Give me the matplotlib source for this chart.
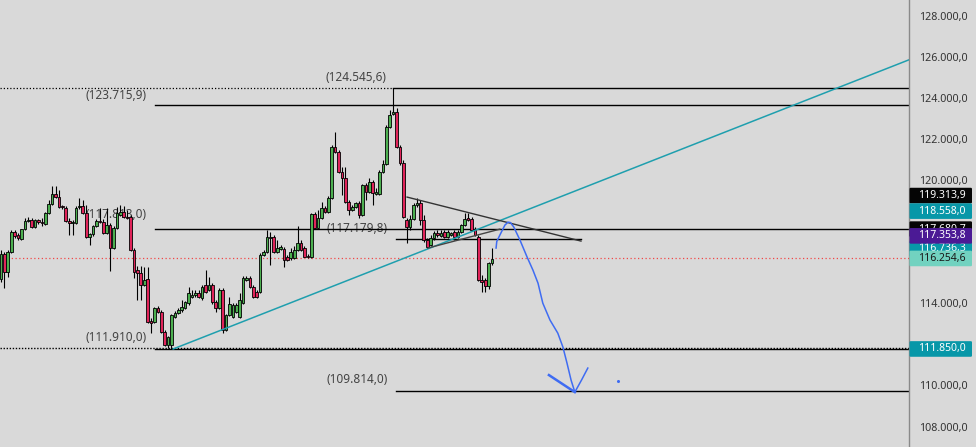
import matplotlib
matplotlib.use('Agg')
import matplotlib.pyplot as plt
from matplotlib.patches import FancyBboxPatch
import numpy as np

plt.rcParams['font.family'] = ['Noto Sans', 'DejaVu Sans']

# candle data, in thousands
opens = [115.25, 116.47, 115.59, 116.56, 117.54, 117.39, 117.19, 117.68, 118.07, 118.12,
         117.78, 118.12, 118.02, 117.93, 118.46, 118.90, 119.39, 119.24, 118.81, 118.71,
         118.07, 117.98, 117.98, 118.76, 118.81, 118.46, 117.29, 117.44, 117.83, 118.07,
         118.02, 117.49, 117.88, 116.76, 117.73, 118.37, 118.51, 118.27, 118.27, 116.66,
         115.69, 115.54, 114.96, 115.25, 113.20, 113.15, 113.84, 113.64, 112.67, 112.03,
         112.03, 113.40, 113.59, 113.74, 113.84, 114.08, 114.37, 114.47, 114.57, 114.33,
         114.96, 114.72, 114.96, 114.13, 113.84, 114.72, 112.77, 113.50, 113.40, 113.64,
         113.40, 114.08, 115.20, 115.30, 114.86, 114.62, 114.62, 116.42, 116.56, 117.24,
         117.29, 116.56, 116.71, 116.71, 116.32, 116.27, 116.27, 116.66, 117.00, 116.76,
         116.37, 116.32, 118.41, 117.73, 118.22, 118.71, 118.51, 119.19, 121.67, 121.43,
         120.46, 120.16, 119.00, 118.61, 118.76, 118.95, 118.37, 119.82, 119.48, 119.97,
         119.39, 119.39, 120.46, 120.85, 122.65, 123.28, 123.38, 121.67, 120.89, 118.12,
         117.78, 118.17, 118.85, 118.95, 118.12, 117.15, 116.90, 117.24, 117.49, 117.34,
         117.54, 117.29, 117.39, 117.54, 117.29, 117.54, 117.88, 118.22, 118.17, 117.63,
         117.29, 115.20, 115.20, 114.91, 116.03]
highs = [116.66, 116.56, 116.66, 117.63, 117.63, 117.49, 117.68, 118.22, 118.27, 118.22,
         118.17, 118.17, 118.22, 118.51, 119.10, 119.77, 119.77, 119.58, 118.85, 118.81,
         118.22, 118.12, 118.81, 119.19, 119.10, 118.85, 117.49, 117.88, 118.17, 118.71,
         118.17, 118.71, 117.98, 117.83, 118.76, 118.85, 118.81, 118.61, 118.37, 116.76,
         115.88, 115.88, 115.84, 115.84, 113.35, 113.89, 113.94, 113.74, 112.77, 112.47,
         113.55, 113.69, 113.84, 114.23, 114.18, 114.86, 114.72, 114.72, 114.72, 114.96,
         115.69, 115.35, 115.05, 114.23, 114.81, 114.81, 113.55, 114.37, 114.08, 114.08,
         114.57, 115.40, 115.40, 115.40, 114.96, 114.72, 116.51, 116.66, 117.63, 117.54,
         117.39, 117.15, 116.90, 116.81, 116.42, 116.76, 116.85, 117.83, 117.15, 116.85,
         116.47, 118.46, 118.51, 118.61, 119.00, 118.81, 119.29, 121.77, 122.40, 121.53,
         120.70, 120.70, 119.10, 118.85, 119.00, 119.05, 119.87, 119.92, 120.16, 120.07,
         119.68, 120.55, 121.04, 122.75, 123.47, 124.55, 123.57, 121.77, 121.04, 118.22,
         118.37, 118.95, 119.19, 119.10, 118.37, 117.24, 117.39, 117.58, 117.63, 117.63,
         117.63, 117.63, 117.54, 117.63, 117.63, 117.93, 118.46, 118.46, 118.27, 117.78,
         117.39, 115.44, 115.30, 116.08, 116.76]
lows = [115.10, 114.81, 115.35, 116.51, 117.24, 117.15, 117.15, 117.63, 118.02, 117.73,
        117.73, 117.93, 117.83, 117.88, 118.41, 118.85, 119.19, 118.71, 118.66, 118.02,
        117.39, 117.39, 117.93, 118.66, 118.41, 117.24, 116.90, 117.34, 117.78, 117.98,
        117.44, 117.44, 115.64, 116.71, 117.68, 118.32, 118.22, 118.17, 116.61, 115.30,
        114.23, 114.23, 114.91, 113.11, 112.62, 113.11, 113.59, 112.62, 111.98, 111.88,
        111.85, 113.35, 113.55, 113.64, 113.79, 113.98, 114.33, 114.37, 114.33, 114.23,
        114.57, 114.67, 114.03, 113.64, 113.79, 112.62, 112.72, 113.45, 113.35, 113.59,
        113.35, 114.03, 115.15, 114.81, 114.33, 114.33, 114.57, 116.37, 116.51, 115.93,
        116.51, 116.51, 116.66, 115.84, 116.13, 116.18, 116.22, 116.61, 116.61, 116.32,
        116.27, 116.27, 117.68, 117.68, 118.17, 118.46, 118.46, 119.14, 121.38, 120.41,
        119.34, 118.95, 118.37, 118.56, 118.71, 118.22, 118.32, 119.10, 119.44, 118.85,
        119.34, 119.34, 120.41, 120.80, 122.60, 123.23, 121.62, 120.80, 118.22, 117.00,
        117.63, 118.12, 118.76, 117.88, 117.05, 116.76, 116.85, 117.15, 117.29, 117.29,
        117.24, 117.24, 117.34, 117.15, 117.24, 117.49, 117.83, 118.07, 117.58, 117.34,
        115.15, 114.62, 114.62, 114.76, 115.93]
closes = [116.47, 115.59, 116.56, 117.54, 117.34, 117.24, 117.68, 118.07, 118.12, 117.78,
          118.12, 118.02, 117.98, 118.46, 118.90, 119.39, 119.24, 118.76, 118.76, 118.07,
          117.98, 118.02, 118.71, 118.81, 118.46, 117.29, 117.44, 117.83, 118.07, 118.02,
          117.49, 117.88, 116.76, 117.73, 118.46, 118.51, 118.27, 118.22, 116.66, 115.59,
          115.54, 114.96, 115.20, 113.15, 113.11, 113.84, 113.64, 112.67, 112.03, 112.42,
          113.50, 113.59, 113.74, 113.89, 114.13, 114.57, 114.47, 114.57, 114.37, 114.86,
          114.62, 114.96, 114.13, 113.84, 114.72, 112.77, 113.50, 114.03, 113.98, 113.98,
          114.23, 115.30, 115.30, 114.86, 114.37, 114.37, 116.42, 116.56, 117.29, 117.29,
          116.56, 116.76, 116.81, 116.18, 116.18, 116.56, 116.66, 117.00, 116.66, 116.32,
          116.32, 118.41, 117.73, 118.22, 118.71, 118.51, 119.19, 121.67, 121.43, 120.46,
          120.16, 119.00, 118.61, 118.76, 118.95, 118.37, 119.82, 119.48, 119.97, 119.44,
          119.48, 120.46, 120.85, 122.65, 123.23, 123.38, 121.67, 120.89, 118.27, 117.78,
          118.17, 118.85, 118.95, 118.12, 117.15, 116.81, 117.24, 117.49, 117.39, 117.49,
          117.29, 117.54, 117.49, 117.29, 117.54, 117.88, 118.17, 118.12, 117.63, 117.39,
          115.20, 115.10, 114.91, 116.03, 116.25]

# visible scale labels (112, 116, 118 sit under the price tags)
yticks = [108, 110, 114, 120, 122, 124, 126, 128]

# price tags on the right scale, in drawing order: (value, background, text colour)
tags = [(119.3139, '#050505', 'white'),
        (118.5580, '#0797a8', 'white'),
        (117.6807, '#050505', 'white'),
        (116.7363, '#0797a8', 'white'),
        (117.3538, '#4b1a95', 'white'),
        (116.2546, '#72d2c0', '#1a1a1a'),
        (111.8500, '#0797a8', 'white')]

# drawn levels
high_level = 124.5456
level_1237 = 123.7159
level_1177 = 117.6807
level_1172 = 117.1798
low_level = 111.85
low_label_level = 111.91
target_level = 109.814
last_price = 116.2546

bg = '#d9d9d9'
green = '#4caf50'
red = '#e0245a'


def fmt(v):
    s = f'{v * 1000:,.1f}'
    return s.replace(',', '#').replace('.', ',').replace('#', '.')


fig = plt.figure(figsize=(9.76, 4.47), dpi=100)
fig.patch.set_facecolor(bg)
ax = fig.add_axes([0, 0, 909 / 976, 1])
ax.set_facecolor(bg)
ax.set_xlim(-0.29, 266.3)
ax.set_ylim(107.08, 128.83)
ax.axis('off')

x = np.arange(len(opens))
o = np.array(opens)
c = np.array(closes)
up = c >= o
body_lo = np.minimum(o, c)
body_h = np.maximum(np.abs(c - o), 0.03)
ax.vlines(x, lows, highs, color='black', lw=0.8, zorder=3)
ax.bar(x, body_h, bottom=body_lo, width=0.78,
       color=np.where(up, green, red), edgecolor='black', linewidth=0.6, zorder=4)

xr = 266.3
# horizontal levels
ax.plot([-0.29, 115], [high_level] * 2, color='black', lw=0.9, ls=(0, (1, 1.6)), zorder=2)
ax.plot([115, xr], [high_level] * 2, color='black', lw=1, zorder=2)
ax.plot([45.2, xr], [level_1237] * 2, color='black', lw=1, zorder=2)
ax.plot([45.2, xr], [level_1177] * 2, color='black', lw=1, zorder=2)
ax.plot([115.8, 170.1], [level_1172] * 2, color='black', lw=1, zorder=2)
ax.plot([45.2, xr], [low_level] * 2, color='black', lw=1, zorder=2)
ax.plot([-0.29, xr], [low_label_level] * 2, color='black', lw=1, ls=(0, (1, 1.2)), zorder=2)
ax.plot([115.8, xr], [target_level] * 2, color='black', lw=1, zorder=2)
ax.plot([-0.29, xr], [last_price] * 2, color='#f04848', lw=0.9, ls=(0, (1, 2)), zorder=2)

# trend lines
ax.plot([50.5, 266.3], [111.85, 125.92], color='#1f9fae', lw=1.1, zorder=5)
ax.plot([119.1, 170.1], [119.24, 117.10], color='#333333', lw=1, zorder=5)
ax.plot([125.2, 146.3], [116.76, 117.68], color='#444444', lw=1, zorder=5)

# hand-drawn projection
path_k = [145.2, 145.4, 146.3, 147.8, 148.7, 149.4, 150.4, 152.2, 154.3, 156.0, 157.5, 158.9,
          161.0, 163.3, 164.8, 166.0, 167.2, 168.3, 170.3, 172.1]
path_p = [116.76, 117.08, 117.39, 117.88, 118.02, 118.00, 117.78, 117.15, 116.32, 115.69,
          115.05, 114.08, 113.26, 112.62, 111.94, 111.16, 110.33, 109.75, 110.35, 110.92]
ax.plot(path_k, path_p, color='#3f6cf2', lw=1.1, zorder=6)
ax.plot([160.7, 168.3], [110.58, 109.75], color='#3f6cf2', lw=1.8, zorder=6)
ax.plot([181.0], [110.28], marker='o', ms=1.2, color='#3f6cf2', zorder=6)

# level labels
lbl = dict(color='#444444', fontsize=8.5, ha='center', va='center', zorder=1)
ax.text(104.2, 125.08, '(124.545,6)', **lbl)
ax.text(33.7, 124.20, '(123.715,9)', **lbl)
ax.text(33.7, 118.41, '(117.813,0)', **lbl)
ax.text(104.4, 117.73, '(117.179,8)', **lbl)
ax.text(33.7, 112.43, '(111.910,0)', **lbl)
ax.text(104.4, 110.38, '(109.814,0)', **lbl)

# right price scale
ax2 = fig.add_axes([909 / 976, 0, 67 / 976, 1])
ax2.set_facecolor(bg)
ax2.set_xlim(0, 67)
ax2.set_ylim(107.08, 128.83)
for s in ['top', 'right', 'bottom']:
    ax2.spines[s].set_visible(False)
ax2.spines['left'].set_color('#8a8a8a')
ax2.spines['left'].set_linewidth(1)
ax2.set_xticks([])
ax2.set_yticks([])
for t in yticks:
    ax2.text(10, t, fmt(t), fontsize=7.7, color='#333333', va='center', ha='left')

half = 0.38
for i, (val, fc, tc) in enumerate(tags):
    box = FancyBboxPatch((0.5, val - half), 62.5, 2 * half,
                         boxstyle='round,pad=0,rounding_size=1.2',
                         fc=fc, ec='none', zorder=5 + 2 * i, mutation_aspect=0.05)
    ax2.add_patch(box)
    ax2.text(9.5, val, fmt(val), fontsize=7.5, color=tc, fontweight='bold',
             va='center', ha='left', zorder=6 + 2 * i, clip_on=True)

fig.savefig('out.png', dpi=100, facecolor=bg)
